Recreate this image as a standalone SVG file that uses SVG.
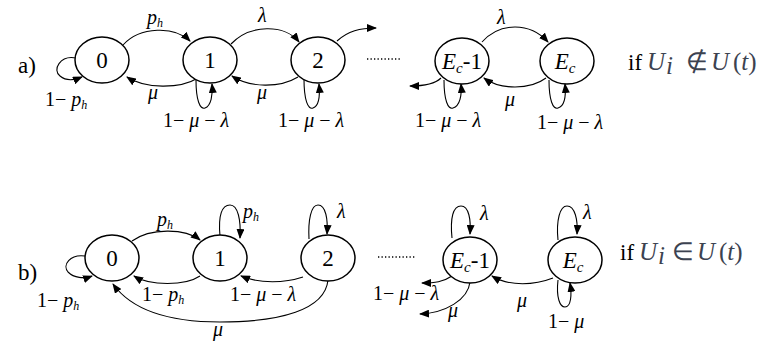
<svg xmlns="http://www.w3.org/2000/svg" width="770" height="341" viewBox="0 0 770 341" font-family="Liberation Serif, Times New Roman, serif">
<style>
.n{fill:#fff;stroke:#000;stroke-width:1.5}
.c{fill:none;stroke:#000;stroke-width:1.1}
.st{font-size:23px}
.lb{font-size:20px}
.it{font-style:italic}
.m{fill:#3c4250;font-size:25px}
</style>
<defs>
<marker id="a" viewBox="0 0 10 8" refX="9" refY="4" markerWidth="10" markerHeight="8" markerUnits="userSpaceOnUse" orient="auto">
<path d="M0,0 L10,4 L0,8 z" fill="#000"/>
</marker>
</defs>
<rect width="770" height="341" fill="#fff"/>

<g id="connectors" class="c" marker-end="url(#a)">
<path d="M123,45 C140,26 175,26 190,41"/>
<path d="M198,78 C180,89 145,89 127,77"/>
<path d="M76,58 C60,55 52,70 60,76 C66,81 75,80 82,77"/>
<path d="M231,44 C250,24 285,24 299,42"/>
<path d="M298,77 C280,88 250,88 232,76"/>
<path d="M196,80 C196,100 200,110 205,108 C211,106 213,95 212,84"/>
<path d="M304,79 C304,100 308,110 313,108 C319,106 320,95 319,84"/>
<path d="M337,41 C348,31 360,28 376,28"/>
<path d="M482,42 C500,22 530,22 548,42"/>
<path d="M546,78 C530,90 500,90 484,78"/>
<path d="M441,78 C435,84 425,86 410,86"/>
<path d="M444,80 C444,100 448,110 453,108 C460,106 462,95 461,84"/>
<path d="M549,80 C549,100 553,110 558,108 C565,106 566,95 565,84"/>
<path d="M132,241 C150,228 185,228 200,240"/>
<path d="M200,276 C185,286 150,286 134,276"/>
<path d="M85,256 C70,254 62,265 68,272 C74,278 84,279 92,276"/>
<path d="M220,236 C218,215 222,205 230,205 C238,205 241,220 240,238"/>
<path d="M309,239 C308,220 311,205 318,205 C326,205 328,220 327,234"/>
<path d="M303,277 C285,283 260,284 241,276"/>
<path d="M328,280 C325,310 280,322 220,322 C160,322 128,305 113,284"/>
<path d="M452,238 C450,218 453,206 461,206 C469,206 471,220 470,234"/>
<path d="M452,276 C443,282 435,283 422,283"/>
<path d="M470,282 C468,300 445,313 420,314"/>
<path d="M553,278 C535,285 510,287 492,276"/>
<path d="M558,240 C556,220 560,206 567,206 C575,206 578,220 577,234"/>
<path d="M558,280 C556,298 560,307 565,307 C571,307 572,295 570,283"/>
</g>
<g id="dots" stroke="#000" stroke-width="1.3" stroke-dasharray="1.3 2.2">
<line x1="367" y1="59" x2="402" y2="59"/>
<line x1="378" y1="257" x2="415" y2="257"/>
</g>

<g id="a0"><ellipse class="n" cx="102" cy="60" rx="27" ry="23"/><text class="st" x="102" y="68" text-anchor="middle">0</text></g>
<g id="a1"><ellipse class="n" cx="210" cy="60" rx="27" ry="23"/><text class="st" x="210" y="68" text-anchor="middle">1</text></g>
<g id="a2"><ellipse class="n" cx="318" cy="60" rx="27" ry="23"/><text class="st" x="318" y="68" text-anchor="middle">2</text></g>
<g id="aEc1"><ellipse class="n" cx="462" cy="61" rx="27" ry="23"/><text class="st" x="462" y="69" text-anchor="middle"><tspan class="it">E</tspan><tspan class="it" font-size="15" dy="4">c</tspan><tspan dy="-4">-1</tspan></text></g>
<g id="aEc"><ellipse class="n" cx="567" cy="61" rx="27" ry="23"/><text class="st" x="565" y="69" text-anchor="middle"><tspan class="it">E</tspan><tspan class="it" font-size="15" dy="4">c</tspan></text></g>

<g id="b0"><ellipse class="n" cx="112" cy="258" rx="27" ry="23"/><text class="st" x="112" y="266" text-anchor="middle">0</text></g>
<g id="b1"><ellipse class="n" cx="220" cy="258" rx="27" ry="23"/><text class="st" x="220" y="266" text-anchor="middle">1</text></g>
<g id="b2"><ellipse class="n" cx="328" cy="258" rx="27" ry="23"/><text class="st" x="328" y="266" text-anchor="middle">2</text></g>
<g id="bEc1"><ellipse class="n" cx="470" cy="260" rx="27" ry="23"/><text class="st" x="470" y="268" text-anchor="middle"><tspan class="it">E</tspan><tspan class="it" font-size="15" dy="4">c</tspan><tspan dy="-4">-1</tspan></text></g>
<g id="bEc"><ellipse class="n" cx="575" cy="260" rx="27" ry="23"/><text class="st" x="573" y="268" text-anchor="middle"><tspan class="it">E</tspan><tspan class="it" font-size="15" dy="4">c</tspan></text></g>

<g id="labels" class="lb">
<text class="st" x="18" y="73">a)</text>
<text class="st" x="18" y="280">b)</text>
<text x="147" y="24"><tspan class="it">p</tspan><tspan class="it" font-size="12" dy="3">h</tspan></text>
<text x="258" y="22" class="it">λ</text>
<text x="148" y="99" class="it">μ</text>
<text x="257" y="99" class="it">μ</text>
<text x="45" y="106">1− <tspan class="it">p</tspan><tspan class="it" font-size="12" dy="3">h</tspan></text>
<text x="163" y="127">1− <tspan class="it">μ</tspan> − <tspan class="it">λ</tspan></text>
<text x="278" y="127">1− <tspan class="it">μ</tspan> − <tspan class="it">λ</tspan></text>
<text x="497" y="24" class="it">λ</text>
<text x="505" y="106" class="it">μ</text>
<text x="415" y="127">1− <tspan class="it">μ</tspan> − <tspan class="it">λ</tspan></text>
<text x="537" y="129">1− <tspan class="it">μ</tspan> − <tspan class="it">λ</tspan></text>
<text class="st" y="70"><tspan x="628">if</tspan><tspan class="m it" x="647">U</tspan><tspan class="m it" font-size="15" x="666" dy="4">i</tspan><tspan class="m" x="686" dy="-4">∉</tspan><tspan class="m it" x="711">U</tspan><tspan class="m" x="733">(</tspan><tspan class="m it">t</tspan><tspan class="m">)</tspan></text>
<text x="157" y="226"><tspan class="it">p</tspan><tspan class="it" font-size="12" dy="3">h</tspan></text>
<text x="37" y="307">1− <tspan class="it">p</tspan><tspan class="it" font-size="12" dy="3">h</tspan></text>
<text x="142" y="301">1− <tspan class="it">p</tspan><tspan class="it" font-size="12" dy="3">h</tspan></text>
<text x="243" y="218"><tspan class="it">p</tspan><tspan class="it" font-size="12" dy="3">h</tspan></text>
<text x="337" y="218" class="it">λ</text>
<text x="230" y="301">1− <tspan class="it">μ</tspan> − <tspan class="it">λ</tspan></text>
<text x="213" y="336" class="it">μ</text>
<text x="480" y="220" class="it">λ</text>
<text x="373" y="300">1− <tspan class="it">μ</tspan> − <tspan class="it">λ</tspan></text>
<text x="448" y="317" class="it">μ</text>
<text x="517" y="307" class="it">μ</text>
<text x="583" y="219" class="it">λ</text>
<text x="548" y="328">1− <tspan class="it">μ</tspan></text>
<text class="st" y="260"><tspan x="620">if</tspan><tspan class="m it" x="639">U</tspan><tspan class="m it" font-size="15" x="658" dy="4">i</tspan><tspan class="m" x="672" dy="-4">∈</tspan><tspan class="m it" x="697">U</tspan><tspan class="m" x="719">(</tspan><tspan class="m it">t</tspan><tspan class="m">)</tspan></text>
</g>
</svg>
